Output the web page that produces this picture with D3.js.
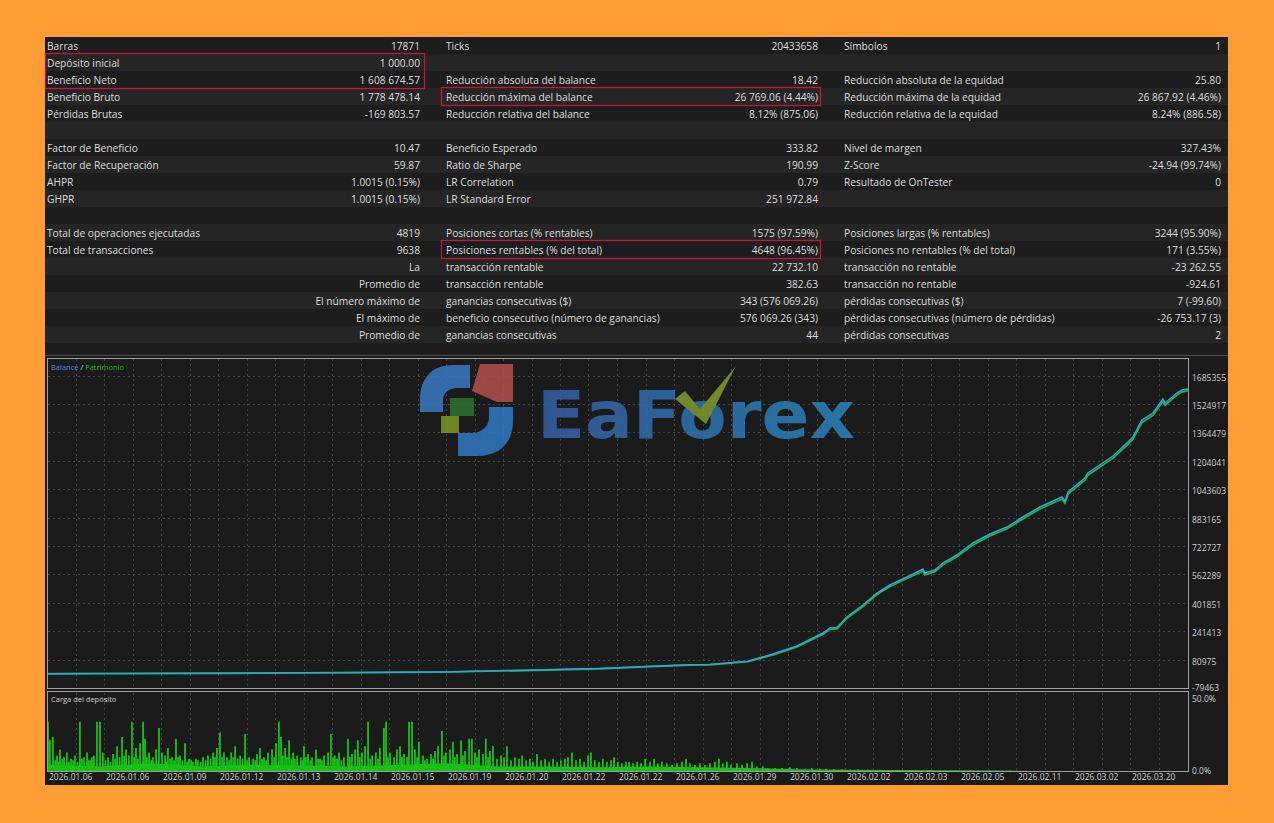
<!DOCTYPE html>
<html><head><meta charset="utf-8">
<script src="https://cdn.jsdelivr.net/npm/d3@7"></script>
<style>html,body{margin:0;padding:0;background:#ff9c33;}svg{display:block;}</style>
</head><body><svg id="c" width="1274" height="823"></svg>
<script>
// ---------- DATA ----------
const col1Labels = ["Barras","Depósito inicial","Beneficio Neto","Beneficio Bruto","Pérdidas Brutas","","Factor de Beneficio","Factor de Recuperación","AHPR","GHPR","","Total de operaciones ejecutadas","Total de transacciones","","","","",""];
const col1Values = ["17871","1 000.00","1 608 674.57","1 778 478.14","-169 803.57","","10.47","59.87","1.0015 (0.15%)","1.0015 (0.15%)","","4819","9638","La","Promedio de","El número máximo de","El máximo de","Promedio de"];
const col2Labels = ["Ticks","","Reducción absoluta del balance","Reducción máxima del balance","Reducción relativa del balance","","Beneficio Esperado","Ratio de Sharpe","LR Correlation","LR Standard Error","","Posiciones cortas (% rentables)","Posiciones rentables (% del total)","transacción rentable","transacción rentable","ganancias consecutivas ($)","beneficio consecutivo (número de ganancias)","ganancias consecutivas"];
const col2Values = ["20433658","","18.42","26 769.06 (4.44%)","8.12% (875.06)","","333.82","190.99","0.79","251 972.84","","1575 (97.59%)","4648 (96.45%)","22 732.10","382.63","343 (576 069.26)","576 069.26 (343)","44"];
const col3Labels = ["Símbolos","","Reducción absoluta de la equidad","Reducción máxima de la equidad","Reducción relativa de la equidad","","Nivel de margen","Z-Score","Resultado de OnTester","","","Posiciones largas (% rentables)","Posiciones no rentables (% del total)","transacción no rentable","transacción no rentable","pérdidas consecutivas ($)","pérdidas consecutivas (número de pérdidas)","pérdidas consecutivas"];
const col3Values = ["1","","25.80","26 867.92 (4.46%)","8.24% (886.58)","","327.43%","-24.94 (99.74%)","0","","","3244 (95.90%)","171 (3.55%)","-23 262.55","-924.61","7 (-99.60)","-26 753.17 (3)","2"];
const highlightRows = [[0,1,2],[1,3,3],[1,12,12]]; // [column, firstRow, lastRow]

const yTicks = [-79463, 80975, 241413, 401851, 562289, 722727, 883165, 1043603, 1204041, 1364479, 1524917, 1685355];
const dateLabels = ["2026.01.06","2026.01.06","2026.01.09","2026.01.12","2026.01.13","2026.01.14","2026.01.15","2026.01.19","2026.01.20","2026.01.22","2026.01.22","2026.01.26","2026.01.29","2026.01.30","2026.02.02","2026.02.03","2026.02.05","2026.02.11","2026.03.02","2026.03.20"];
const loadTicks = [0, 50];

const balanceTrade = [0,200,431,800,1065,1300,1657,2000,2333,2500,2714,2798,2959,3065,3166,3276,3306,3335,3377,3445,3504,3559,3631,3699,3707,3749,3783,3842,3910,3982,4054,4121,4193,4286,4299,4312,4383,4396,4502,4561,4586,4624,4671,4713,4722,4772,4794,4819];
const balanceValue = [1000,1800,3000,4000,6000,7500,11000,20000,30000,40000,52000,54000,72000,112600,157800,231200,259500,262000,321600,389400,457200,502400,547600,592800,570200,587100,626700,671900,739700,790500,830000,886500,943000,999500,976900,1027700,1106900,1135100,1231100,1304600,1338500,1434500,1474000,1553100,1530500,1587000,1604000,1609675];
const equityValue = [1000,1700,2900,3800,5800,7300,10600,19500,29200,39000,50500,52000,70000,108000,153000,224000,252000,255000,314000,381000,449000,494000,539000,582000,560000,578000,617000,662000,729000,780000,820000,876000,932000,988000,965000,1016000,1095000,1123000,1219000,1292000,1326000,1420000,1461000,1540000,1518000,1575000,1594000,1600000];
const totalTrades = 4819;

const loadBase = [[0,4],[220,3],[431,5],[650,3],[860,4],[1065,3.5],[1270,3],[1480,4],[1690,5],[1900,3],[2110,3],[2330,2.5],[2540,3],[2750,2.5],[2960,2],[3170,1.2],[3380,0.8],[3590,0.6],[3800,0.5],[4010,0.4],[4100,0.2],[4140,0],[4819,0]];
const loadSpikes = [[0,32],[8,20],[21,22],[30,7],[38,10],[45,6],[51,14],[60,8],[68,9],[80,12],[88,6],[97,8],[106,7],[114,10],[125,6],[135,32],[143,8],[152,9],[165,12],[171,7],[178,7],[186,9],[194,10],[207,32],[220,32],[232,12],[243,7],[254,9],[264,6],[275,11],[284,8],[292,16],[303,9],[313,22],[322,10],[330,14],[342,10],[355,32],[364,9],[372,15],[380,8],[389,18],[402,32],[410,21],[418,9],[427,12],[436,7],[444,9],[457,14],[469,28],[482,12],[495,10],[501,6],[507,15],[516,8],[524,9],[533,7],[541,21],[550,9],[558,10],[568,7],[579,18],[588,6],[596,8],[605,7],[613,6],[625,8],[634,7],[645,6],[655,9],[666,7],[676,10],[687,8],[698,12],[706,9],[714,15],[727,25],[736,9],[744,12],[757,9],[766,7],[774,12],[783,9],[791,16],[802,8],[812,10],[822,8],[833,24],[842,7],[850,9],[867,8],[876,7],[883,11],[896,15],[905,8],[913,9],[922,7],[930,12],[947,14],[956,9],[964,18],[976,32],[985,22],[993,10],[1002,15],[1010,9],[1019,20],[1028,8],[1036,12],[1044,8],[1053,10],[1069,9],[1076,7],[1082,16],[1090,9],[1099,11],[1108,7],[1116,9],[1133,14],[1142,8],[1150,8],[1158,7],[1167,10],[1184,12],[1196,24],[1205,9],[1213,10],[1222,8],[1230,12],[1240,7],[1251,9],[1268,21],[1276,9],[1285,11],[1298,14],[1310,20],[1318,9],[1327,12],[1340,16],[1353,32],[1362,8],[1370,10],[1386,12],[1395,8],[1403,15],[1420,28],[1429,32],[1437,9],[1446,12],[1463,9],[1475,14],[1488,16],[1496,9],[1505,11],[1518,9],[1526,32],[1539,32],[1551,14],[1560,9],[1568,19],[1585,10],[1593,7],[1602,8],[1619,11],[1628,8],[1636,13],[1649,16],[1665,26],[1674,10],[1682,12],[1699,14],[1712,19],[1720,9],[1729,11],[1746,20],[1754,10],[1763,13],[1780,21],[1792,21],[1805,12],[1813,9],[1822,14],[1839,11],[1851,21],[1860,9],[1868,13],[1881,16],[1898,8],[1915,10],[1928,9],[1940,16],[1957,7],[1974,9],[1991,8],[2004,10],[2021,7],[2037,8],[2050,6],[2067,11],[2084,7],[2101,8],[2118,6],[2135,8],[2152,6],[2168,7],[2185,8],[2198,9],[2215,12],[2232,7],[2249,8],[2266,6],[2283,10],[2295,12],[2312,7],[2329,6],[2346,8],[2363,6],[2380,7],[2393,9],[2409,6],[2426,5],[2443,6],[2456,6],[2473,5],[2490,6],[2507,5],[2524,8],[2545,6],[2562,8],[2578,5],[2595,6],[2616,5],[2638,4],[2659,5],[2680,6],[2697,8],[2714,5],[2735,4],[2756,5],[2777,4],[2798,5],[2819,6],[2836,8],[2853,5],[2870,6],[2887,4],[2912,5],[2934,4],[2955,5],[2976,6],[2997,3],[3022,3],[3043,2],[3073,2],[3103,2],[3136,2.5],[3166,2],[3200,1.5],[3229,2],[3263,1.5],[3289,1.5],[3322,1.2],[3356,1.2],[3390,1],[3424,1],[3466,0.8],[3517,0.8],[3580,0.7],[3644,0.6],[3728,0.6],[3813,0.5],[3897,0.5],[3982,0.4],[4066,0.3]];

// ---------- DRAW ----------
const svg = d3.select("#c");
const W = 1274, H = 823;
svg.append("rect").attr("width", W).attr("height", H).attr("fill", "#ff9c33");
svg.append("rect").attr("x", 45).attr("y", 37).attr("width", 1183).attr("height", 748).attr("fill", "#1c1c1c");

// table
const rowH = 17, tableTop = 37, nRows = 19;
const rowScale = d3.scaleLinear().domain([0, 1]).range([tableTop, tableTop + rowH]);
const rows = d3.range(nRows);
svg.append("g").selectAll("rect").data(rows).join("rect")
  .attr("x", 45).attr("width", 1183)
  .attr("y", d => rowScale(d)).attr("height", rowH)
  .attr("fill", d => d % 2 ? "#252525" : "#1d1d1d");

const cols = [
  {labels: col1Labels, values: col1Values, lx: 47, vx: 420, bx: 45, bw: 380},
  {labels: col2Labels, values: col2Values, lx: 446, vx: 818, bx: 441, bw: 380},
  {labels: col3Labels, values: col3Values, lx: 844, vx: 1221, bx: 839, bw: 389}
];
const tg = svg.append("g").attr("font-family", "'Open Sans', 'Noto Sans', sans-serif").attr("font-size", "10.2px").attr("fill", "#dedede");
cols.forEach(c => {
  tg.append("g").selectAll("text").data(c.labels).join("text")
    .attr("x", c.lx).attr("y", (d, i) => rowScale(i) + 12.5).text(d => d);
  tg.append("g").selectAll("text").data(c.values).join("text")
    .attr("x", c.vx).attr("y", (d, i) => rowScale(i) + 12.5).attr("text-anchor", "end").text(d => d);
});
svg.append("g").selectAll("rect").data(highlightRows).join("rect")
  .attr("x", d => cols[d[0]].bx + 0.5).attr("width", d => cols[d[0]].bw - 1)
  .attr("y", d => rowScale(d[1]) - 0.5).attr("height", d => rowScale(d[2] + 1) - rowScale(d[1]) + 1)
  .attr("fill", "none").attr("stroke", "#c3173f").attr("stroke-width", 1.3);

// chart area
svg.append("rect").attr("x", 45).attr("y", 355).attr("width", 1183).attr("height", 430).attr("fill", "#1b1b1b");
svg.append("line").attr("x1", 45).attr("x2", 1228).attr("y1", 355.5).attr("y2", 355.5).attr("stroke", "#4d4d4d");

const x = d3.scaleLinear().domain([0, totalTrades]).range([48, 1188]);
const y = d3.scaleLinear().domain([yTicks[0], yTicks[yTicks.length - 1]]).range([688, 375.6]);
const yl = d3.scaleLinear().domain([0, 50]).range([771, 694]);
const xd = d3.scaleLinear().domain([0, dateLabels.length]).range([47, 1187]);

// grid
const grid = svg.append("g").attr("stroke", "#444").attr("stroke-dasharray", "2,3").attr("stroke-width", 1);
const halfSteps = d3.range(1, dateLabels.length * 2);
grid.selectAll("line.v1").data(halfSteps).join("line").attr("class", "v1")
  .attr("x1", d => Math.round(xd(d / 2)) + 0.5).attr("x2", d => Math.round(xd(d / 2)) + 0.5)
  .attr("y1", 359).attr("y2", 688);
grid.selectAll("line.v2").data(halfSteps).join("line").attr("class", "v2")
  .attr("x1", d => Math.round(xd(d / 2)) + 0.5).attr("x2", d => Math.round(xd(d / 2)) + 0.5)
  .attr("y1", 693).attr("y2", 771);
grid.selectAll("line.h").data(yTicks.slice(1)).join("line").attr("class", "h")
  .attr("x1", 48).attr("x2", 1188)
  .attr("y1", d => Math.round(y(d)) + 0.5).attr("y2", d => Math.round(y(d)) + 0.5);

// logo watermark
const defs = svg.append("defs");
const lg = defs.append("linearGradient").attr("id", "lg").attr("x1", "0").attr("x2", "1").attr("y1", "0").attr("y2", "0");
lg.append("stop").attr("offset", "0").attr("stop-color", "#365fa6");
lg.append("stop").attr("offset", "1").attr("stop-color", "#2a86bd");
const logo = svg.append("g").attr("opacity", 0.85);
logo.append("path").attr("d", "M470,365 L452,365 C432,365 420,379 420,399 L420,412 L443,412 L443,401 C443,393 449,388 457,388 L470,388 Z").attr("fill", "#3b79c4");
logo.append("path").attr("d", "M480,364 L513,364 L513,402 L497,402 L472,391 Z").attr("fill", "#b5504e");
logo.append("path").attr("d", "M513,407 L513,421 C513,443 499,456 477,456 L458,456 L458,433 L471,433 C481,433 489,427 489,417 L489,407 Z").attr("fill", "#2f78c2");
logo.append("rect").attr("x", 450).attr("y", 398).attr("width", 24).attr("height", 18).attr("fill", "#2c7330");
logo.append("rect").attr("x", 441).attr("y", 416).attr("width", 18).attr("height", 17).attr("fill", "#7c9628");
logo.append("text").attr("x", 537).attr("y", 438).attr("font-family", "'DejaVu Sans', sans-serif").attr("font-weight", 700)
  .attr("font-size", "66px").attr("textLength", 318).attr("lengthAdjust", "spacingAndGlyphs").attr("fill", "url(#lg)").text("EaForex");
logo.append("path").attr("d", "M675,399 L685,391 L700,409 L736,366 L706,424 Z").attr("fill", "#7f9b2c");

// equity / balance
const lineGen = vals => d3.line().x((d, i) => x(balanceTrade[i])).y(d => y(d))(vals);
svg.append("path").attr("d", lineGen(equityValue)).attr("fill", "none").attr("stroke", "#21b04a").attr("stroke-width", 1.8);
svg.append("path").attr("d", lineGen(balanceValue)).attr("fill", "none").attr("stroke", "#2aa7dc").attr("stroke-width", 1.5);

// deposit load
svg.append("path").attr("d", d3.area().x(d => x(d[0])).y0(yl(0)).y1(d => yl(d[1]))(loadBase)).attr("fill", "#14c414");
svg.append("g").selectAll("line").data(loadSpikes).join("line")
  .attr("x1", d => x(d[0])).attr("x2", d => x(d[0]))
  .attr("y1", yl(0)).attr("y2", d => yl(d[1]))
  .attr("stroke", "#14c414").attr("stroke-width", 1.8);

// frames
svg.append("rect").attr("x", 47.5).attr("y", 358.5).attr("width", 1141).attr("height", 330).attr("fill", "none").attr("stroke", "#a0a0a0");
svg.append("rect").attr("x", 47.5).attr("y", 691.5).attr("width", 1141).attr("height", 80).attr("fill", "none").attr("stroke", "#a0a0a0");

// axis labels
const ax = svg.append("g").attr("font-family", "'Open Sans', 'Noto Sans', sans-serif").attr("font-size", "8.5px").attr("fill", "#cfcfcf");
ax.selectAll("text.y").data(yTicks).join("text").attr("class", "y")
  .attr("x", 1192).attr("y", d => y(d) + (d === yTicks[0] ? 3 : 5)).text(d => d);
ax.selectAll("text.l").data(loadTicks).join("text").attr("class", "l")
  .attr("x", 1192).attr("y", d => yl(d) + (d === 0 ? 3 : 7.5)).text(d => d.toFixed(1) + "%");
ax.selectAll("text.d").data(dateLabels).join("text").attr("class", "d")
  .attr("x", (d, i) => xd(i) + 2).attr("y", 780).text(d => d);

// legends
const lgd = svg.append("text").attr("x", 51).attr("y", 370).attr("font-family", "'Open Sans', sans-serif").attr("font-size", "7.5px");
lgd.append("tspan").attr("fill", "#3d8fe0").text("Balance");
lgd.append("tspan").attr("fill", "#dddddd").text(" / ");
lgd.append("tspan").attr("fill", "#19b819").text("Patrimonio");
svg.append("text").attr("x", 51).attr("y", 702).attr("font-family", "'Open Sans', sans-serif").attr("font-size", "7.5px").attr("fill", "#d0d0d0").text("Carga del depósito");
</script></body></html>
